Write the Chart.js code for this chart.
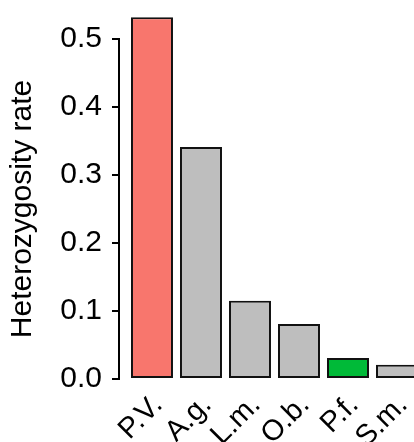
<!DOCTYPE html>
<html>
<head>
<meta charset="utf-8">
<script src="https://cdn.jsdelivr.net/npm/chart.js@4/dist/chart.umd.min.js"></script>
<style>
  html, body { margin: 0; padding: 0; background: #fff; overflow: hidden; }
  #chart { display: block; }
</style>
</head>
<body>
<canvas id="chart" width="414" height="442"></canvas>
<script>
// ── Data ─────────────────────────────────────────────────────────────────────
const species    = ['P.V.', 'A.g.', 'L.m.', 'O.b.', 'P.f.', 'S.m.'];
const hetRate    = [0.532, 0.341, 0.115, 0.081, 0.031, 0.021];
const barColors  = ['#F8766D', '#BEBEBE', '#BEBEBE', '#BEBEBE', '#00BA38', '#BEBEBE'];
const yTicks     = [0, 0.1, 0.2, 0.3, 0.4, 0.5];

const FAMILY = '"Liberation Sans", Arial, sans-serif';

// ── Chart ────────────────────────────────────────────────────────────────────
new Chart(document.getElementById('chart'), {
    type: 'bar',
    data: {
        datasets: [{
            data:            hetRate.map((v, i) => ({ x: i, y: v })),
            backgroundColor: barColors,
            borderColor:     '#111',
            borderWidth:     2,
            borderSkipped:   false,
            barPercentage:   0.857,
            categoryPercentage: 1,
            clip:            false
        }]
    },
    options: {
        responsive: false,
        animation:  false,
        layout:     { padding: { top: 39, right: 0, left: 0, bottom: 0 } },
        plugins:    { legend: { display: false }, tooltip: { enabled: false } },
        scales: {
            x: {
                type:   'linear',
                offset: false,
                min:    -0.673,
                max:    5.347,
                grid:   { display: false, offset: false },
                border: { display: false },
                afterBuildTicks: s => { s.ticks = species.map((_, i) => ({ value: i })); },
                // fixed box, no extra side padding so the last bar runs off the edge
                afterFit: s => { s.height = 63; s.paddingLeft = 0; s.paddingRight = 0; },
                ticks: {
                    color:       '#000',
                    font:        { family: FAMILY, size: 29 },
                    minRotation: 45,
                    maxRotation: 45,
                    padding:     1,
                    labelOffset: 6,
                    autoSkip:    false,
                    callback:    v => species[v]
                }
            },
            y: {
                min:    0,
                max:    0.5,
                afterBuildTicks: s => { s.ticks = yTicks.map(v => ({ value: v })); },
                afterFit: s => { s.width = 119; },
                grid:   { drawOnChartArea: false, drawTicks: true, tickLength: 7, color: '#000', lineWidth: 2 },
                border: { display: true, color: '#000', width: 2 },
                ticks: {
                    color:    '#000',
                    font:     { family: FAMILY, size: 30 },
                    padding:  10,
                    callback: v => v.toFixed(1)
                },
                title: {
                    display: true,
                    text:    'Heterozygosity rate',
                    color:   '#000',
                    font:    { family: FAMILY, size: 30, lineHeight: 1 },
                    padding: { top: 8, bottom: 0 }
                }
            }
        }
    }
});
</script>
</body>
</html>
